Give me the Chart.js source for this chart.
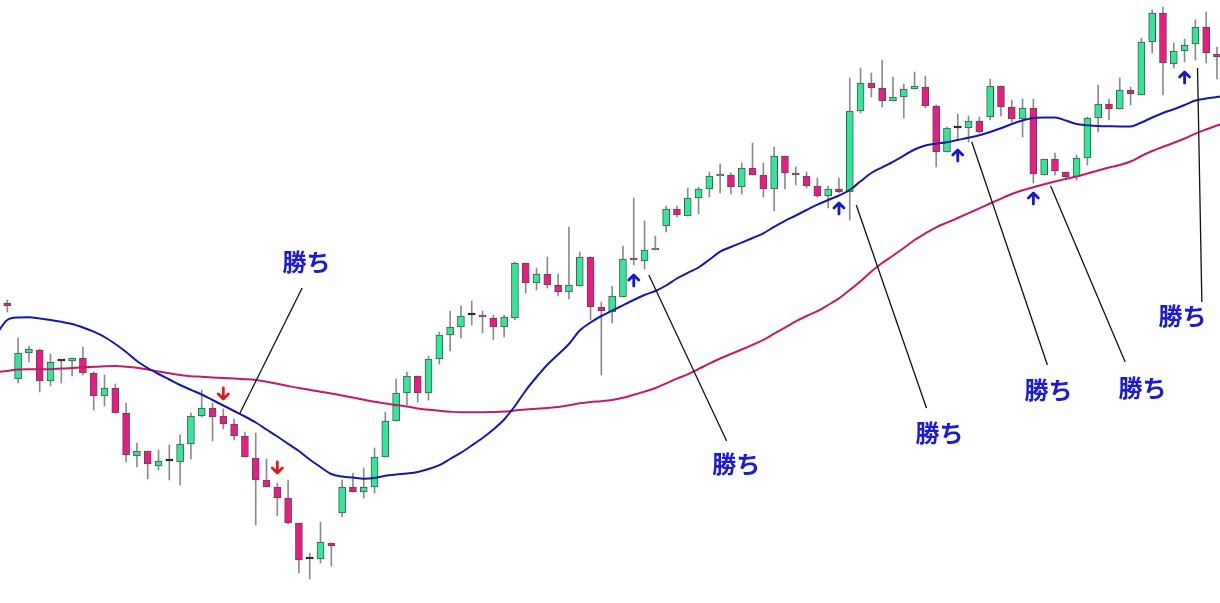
<!DOCTYPE html>
<html lang="ja">
<head>
<meta charset="utf-8">
<title>勝ち</title>
<script src="https://cdn.jsdelivr.net/npm/chart.js@4.4.1/dist/chart.umd.min.js"></script>
<style>
    html, body { margin: 0; padding: 0; background: #fff; }
    #wrap { width: 1220px; height: 603px; position: relative; }
</style>
</head>
<body>
<div id="wrap"><canvas id="priceChart"></canvas></div>
<script>
// OHLC per bar (bar 0 = first full candle on the left)
const opens = [
    300, 224, 250, 253, 222, 242, 242, 245, 230, 207,
    215, 190, 147, 152, 137, 142, 141, 159, 187, 195,
    187, 179, 167, 145, 123, 116, 105, 80, 44, 44,
    60, 90, 116, 111, 116, 146, 182, 210, 227, 210,
    244, 268, 276, 288, 288, 285, 276, 285, 340, 320,
    329, 318, 311, 317, 346, 296, 291, 306, 345, 342,
    353, 377, 394, 387, 405, 414, 427, 428, 416, 435,
    428, 414, 447, 430, 427, 417, 407, 414, 411, 492,
    520, 515, 502, 506, 514, 516, 497, 451, 475, 475,
    482, 486, 517, 496, 484, 495, 428, 444, 431, 426,
    445, 485, 499, 494, 513, 508, 561, 590, 539, 552,
    559, 576, 549
];
const highs = [
    303, 265, 257, 254, 249, 242, 245, 256, 231, 228,
    219, 200, 160, 152, 153, 158, 168, 190, 213, 200,
    194, 184, 171, 170, 144, 120, 123, 80, 50, 81,
    60, 123, 130, 135, 155, 191, 224, 231, 227, 247,
    271, 292, 297, 302, 292, 288, 288, 341, 340, 335,
    346, 329, 376, 351, 346, 301, 317, 357, 405, 382,
    367, 397, 397, 415, 416, 431, 439, 430, 440, 460,
    440, 456, 447, 436, 431, 425, 417, 425, 525, 535,
    530, 543, 526, 519, 531, 527, 498, 476, 489, 487,
    486, 524, 517, 503, 504, 504, 444, 450, 431, 448,
    486, 518, 504, 525, 516, 565, 593, 596, 560, 564,
    583, 591, 556
];
const lows = [
    291, 220, 241, 211, 217, 220, 227, 228, 193, 197,
    190, 141, 136, 124, 133, 123, 118, 144, 186, 162,
    174, 163, 146, 78, 116, 87, 79, 30, 24, 40,
    37, 86, 111, 105, 110, 146, 182, 198, 201, 203,
    239, 252, 265, 278, 270, 263, 266, 283, 310, 313,
    315, 307, 304, 317, 283, 228, 280, 306, 338, 334,
    353, 371, 386, 387, 389, 406, 410, 409, 409, 428,
    406, 392, 414, 418, 415, 406, 395, 410, 383, 490,
    506, 496, 502, 485, 514, 495, 436, 451, 463, 461,
    470, 483, 487, 481, 466, 420, 428, 428, 423, 423,
    438, 471, 483, 494, 498, 508, 550, 508, 535, 541,
    543, 540, 524
];
const closes = [
    297, 250, 254, 222, 241, 242, 245, 230, 207, 215,
    190, 148, 152, 139, 142, 142, 159, 187, 195, 186,
    179, 167, 146, 123, 116, 105, 80, 43, 44, 61,
    57, 116, 111, 116, 146, 182, 210, 227, 210, 244,
    268, 276, 287, 288, 286, 276, 286, 340, 320, 329,
    318, 311, 318, 346, 296, 292, 307, 344, 343, 353,
    355, 394, 388, 405, 414, 427, 428, 416, 435, 428,
    414, 447, 430, 428, 417, 407, 414, 411, 492, 520,
    515, 502, 506, 514, 517, 497, 451, 475, 475, 482,
    471, 517, 496, 484, 495, 429, 444, 432, 426, 445,
    485, 499, 494, 513, 509, 561, 590, 540, 552, 558,
    576, 550, 546
];

// moving averages, from one bar before bar 0 to one bar after the last bar
const maFast = [
    269, 283, 285.5, 285.7, 284.5, 283, 281.2, 279, 275.5, 271.3,
    266, 259, 251, 242, 235, 229, 223.5, 218, 213.2, 208.5,
    203, 197.5, 192, 186.5, 180.5, 173.5, 166.5, 159.2, 152, 143.5,
    136, 129, 126.5, 125.4, 124.3, 125, 127.2, 128.5, 129.5, 131,
    134, 137.8, 144, 150.3, 157.5, 165, 173.5, 183.5, 197, 212.5,
    226, 238.3, 248.5, 259, 272.5, 280.5, 287, 292.3, 297.7, 303,
    308, 312, 317.5, 324.5, 330.2, 335.5, 343.3, 351.3, 356, 360.4,
    365, 369.7, 376.2, 382.2, 387.5, 393, 398.3, 403, 407.5, 413,
    421.7, 430, 435.7, 441.2, 447.3, 453.5, 457.5, 459.3, 460.7, 463,
    465.2, 467.8, 471, 474.7, 479, 482.5, 485, 485.5, 485.5, 482.5,
    479, 477.8, 477, 476.7, 476.5, 476.5, 480.5, 485.5, 490, 493.7,
    498, 502.5, 504.5, 506, 507.5
];
const maSlow = [
    231, 232, 233.5, 233.7, 233.7, 233.8, 234.4, 235, 235.7, 236.2,
    236.7, 237, 236.3, 235.2, 233.4, 231.5, 229.7, 228, 226.8, 226.2,
    225.6, 225, 224.4, 223.8, 223, 221.2, 219.2, 217, 214.9, 213.1,
    211.3, 209.5, 207.6, 205.4, 203.3, 201.2, 199.5, 198.1, 196.4, 194.6,
    193.2, 192.2, 191.3, 190.7, 190.7, 190.8, 191, 191.4, 192.5, 193.6,
    194.3, 195, 195.9, 197.7, 199.7, 201, 201.8, 203, 205.2, 208.2,
    211.4, 215, 219.6, 224.4, 228.7, 234, 239.4, 244.5, 249, 253.5,
    258.2, 263.2, 269.3, 275.4, 281.6, 287, 291.8, 298, 304.6, 313,
    321.7, 331.4, 340, 347.2, 355, 363, 369.6, 375.7, 380.4, 385,
    389.8, 394.7, 399.5, 404.4, 409, 412.7, 415.8, 418.7, 421.5, 424.1,
    426.5, 429.5, 432.5, 435.5, 438, 441.5, 447, 452, 456.2, 460.2,
    464.5, 469.3, 473.5, 477.5, 480.5
];

// signal bars
const buySignals = [58, 77, 88, 95, 109];
const sellSignals = [20, 25];

// "勝ち" notes: leader line from -> to, label centre (bar, price)
const winText = '勝ち';
const winFrom = [[21.5, 189], [59.4, 328], [78.6, 398], [89.3, 461], [96.6, 417], [110.2, 535]];
const winTo = [[27.3, 315], [66.6, 162], [85.1, 195], [96.3, 238], [103.5, 241], [110.6, 301]];
const winLabelAt = [[27.7, 341], [67.5, 139], [86.3, 170], [96.4, 213], [105.1, 215], [108.8, 287]];

const UP = '#2fe898', DOWN = '#ee1a84', DOJI = '#111';

const drawArrow = (ctx, px, tipY, dir, color) => {
    // dir 1: points up (tip on top), dir -1: points down
    const len = 11, head = 5;
    ctx.strokeStyle = color;
    ctx.lineWidth = 2.8;
    ctx.beginPath();
    ctx.moveTo(px, tipY + dir * 1);
    ctx.lineTo(px, tipY + dir * len);
    ctx.moveTo(px - head, tipY + dir * head);
    ctx.lineTo(px, tipY);
    ctx.lineTo(px + head, tipY + dir * head);
    ctx.stroke();
};

const signalPlugin = {
    id: 'signals',
    afterDatasetsDraw(chart) {
        const { ctx, scales: { x, y } } = chart;
        ctx.save();
        ctx.lineCap = 'round';
        ctx.lineJoin = 'round';
        buySignals.forEach(i => drawArrow(ctx, x.getPixelForValue(i), y.getPixelForValue(lows[i]) + 10, 1, '#1616d6'));
        sellSignals.forEach(i => drawArrow(ctx, x.getPixelForValue(i), y.getPixelForValue(highs[i]) - 10, -1, '#dd1a1a'));

        ctx.strokeStyle = '#111';
        ctx.lineWidth = 1.3;
        ctx.lineCap = 'butt';
        winFrom.forEach((p, k) => {
            ctx.beginPath();
            ctx.moveTo(x.getPixelForValue(p[0]), y.getPixelForValue(p[1]));
            ctx.lineTo(x.getPixelForValue(winTo[k][0]), y.getPixelForValue(winTo[k][1]));
            ctx.stroke();
        });

        ctx.fillStyle = '#1a1ad8';
        ctx.font = 'bold 24px "Noto Sans CJK JP", "Noto Sans CJK SC", sans-serif';
        ctx.textAlign = 'center';
        ctx.textBaseline = 'middle';
        winLabelAt.forEach(p => ctx.fillText(winText, x.getPixelForValue(p[0]), y.getPixelForValue(p[1])));
        ctx.restore();
    }
};

document.addEventListener('DOMContentLoaded', () => {
    const bodyColor = (i) => closes[i] > opens[i] ? UP : closes[i] < opens[i] ? DOWN : DOJI;

    const ctx = document.getElementById('priceChart').getContext('2d');
    new Chart(ctx, {
        type: 'bar',
        data: {
            datasets: [
                {
                    type: 'line',
                    data: maFast.map((v, i) => ({ x: i - 1, y: v })),
                    borderColor: '#1418ae',
                    borderWidth: 2,
                    pointRadius: 0,
                    cubicInterpolationMode: 'monotone',
                    order: 0
                },
                {
                    type: 'line',
                    data: maSlow.map((v, i) => ({ x: i - 1, y: v })),
                    borderColor: '#c41a68',
                    borderWidth: 2,
                    pointRadius: 0,
                    cubicInterpolationMode: 'monotone',
                    order: 0
                },
                {
                    data: opens.map((o, i) => ({ x: i, y: [o, closes[i]] })),
                    backgroundColor: c => bodyColor(c.dataIndex),
                    borderColor: c => closes[c.dataIndex] === opens[c.dataIndex] ? DOJI : '#505050',
                    borderWidth: 1,
                    borderSkipped: false,
                    barThickness: 7,
                    minBarLength: 2,
                    grouped: false,
                    order: 1
                },
                {
                    data: lows.map((l, i) => ({ x: i, y: [l, highs[i]] })),
                    backgroundColor: '#8c8c8c',
                    barThickness: 1,
                    grouped: false,
                    order: 2
                }
            ]
        },
        options: {
            responsive: true,
            maintainAspectRatio: false,
            animation: false,
            layout: { padding: 0 },
            plugins: { legend: { display: false }, tooltip: { enabled: false } },
            scales: {
                x: { type: 'linear', min: -0.676, max: 112.28, offset: false, display: false },
                y: { min: 0, max: 603, display: false }
            }
        },
        plugins: [signalPlugin]
    });
});
</script>
</body>
</html>
